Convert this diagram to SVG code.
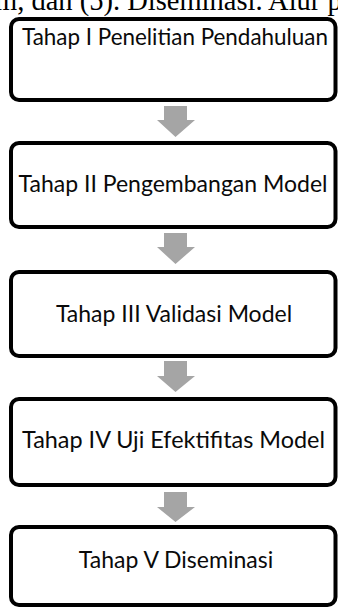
<svg xmlns="http://www.w3.org/2000/svg" width="338" height="608" viewBox="0 0 338 608">
<style>
.box{fill:#fff;stroke:#000;stroke-width:4}
.lbl{font-family:Lato,"Liberation Sans",sans-serif;font-size:23px;fill:#0a0a0a;text-anchor:middle}
.arr{fill:#a5a5a5}
.top{font-family:"Liberation Serif",serif;font-size:28.5px;fill:#000}
</style>
<rect width="338" height="608" fill="#fff"/>
<text class="top" x="-5" y="10">m, dan (5). Diseminasi. Alur p</text>
<g id="connectors">
<polygon class="arr" points="164,106 187,106 187,120 195,120 175.5,137 157,120 164,120"/>
<polygon class="arr" points="164,233 187,233 187,247 195,247 175.5,264 157,247 164,247"/>
<polygon class="arr" points="164,361 187,361 187,376 195,376 175.5,392 157,376 164,376"/>
<polygon class="arr" points="164,492 187,492 187,507 195,507 175.5,522 157,507 164,507"/>
</g>
<g id="n1"><rect class="box" x="11" y="19" width="324.5" height="81" rx="8"/><text class="lbl" x="175" y="45" textLength="306" lengthAdjust="spacingAndGlyphs">Tahap I Penelitian Pendahuluan</text></g>
<g id="n2"><rect class="box" x="11" y="143" width="324.5" height="84" rx="8"/><text class="lbl" x="173" y="192">Tahap II Pengembangan Model</text></g>
<g id="n3"><rect class="box" x="11" y="272" width="324.5" height="84" rx="8"/><text class="lbl" x="174" y="322">Tahap III Validasi Model</text></g>
<g id="n4"><rect class="box" x="11" y="399" width="324.5" height="86" rx="8"/><text class="lbl" x="173.5" y="448" textLength="303" lengthAdjust="spacingAndGlyphs">Tahap IV Uji Efektifitas Model</text></g>
<g id="n5"><rect class="box" x="11" y="527" width="324.5" height="78" rx="8"/><text class="lbl" x="176" y="568">Tahap V Diseminasi</text></g>
</svg>
